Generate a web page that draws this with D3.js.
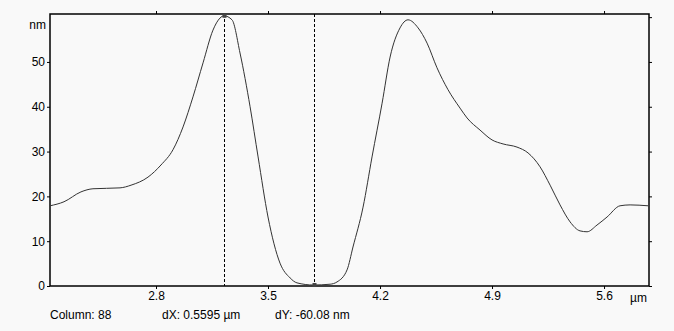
<!DOCTYPE html>
<html>
<head>
<meta charset="utf-8">
<script src="https://cdn.jsdelivr.net/npm/d3@7"></script>
<style>
	body { margin: 0; background: #f9f9f9; }
	svg { display: block; font-family: 'Liberation Sans', Arial, sans-serif; }
</style>
</head>
<body>
<svg id="chart"></svg>
<script>
// profile (µm, nm)
const profileX = [2.138, 2.225, 2.331, 2.406, 2.575, 2.644, 2.75, 2.831, 2.906, 2.969, 3.031, 3.094, 3.156, 3.2, 3.225, 3.275, 3.325, 3.388, 3.438, 3.5, 3.575, 3.638, 3.681, 3.784, 3.888, 3.931, 3.994, 4.031, 4.094, 4.15, 4.213, 4.263, 4.325, 4.375, 4.438, 4.494, 4.556, 4.625, 4.7, 4.744, 4.825, 4.9, 4.969, 5.056, 5.125, 5.2, 5.263, 5.325, 5.388, 5.45, 5.494, 5.556, 5.619, 5.7, 5.763, 5.875];
const profileY = [17.9, 18.8, 21.0, 21.7, 21.9, 22.5, 24.3, 27.0, 30.4, 35.5, 42.2, 49.8, 57.1, 59.8, 60.3, 59.4, 52.0, 40.0, 28.8, 15.4, 5.1, 1.8, 0.7, 0.22, 0.4, 0.9, 3.6, 8.7, 17.6, 28.8, 40.8, 51.1, 57.6, 59.4, 57.6, 54.2, 48.7, 43.8, 39.7, 37.5, 34.8, 32.6, 31.7, 31.0, 29.7, 26.6, 22.5, 18.1, 14.3, 12.3, 12.1, 13.6, 15.4, 17.9, 18.1, 17.9];

const xTicks = [2.8, 3.5, 4.2, 4.9, 5.6];
const yTicks = [0, 10, 20, 30, 40, 50];
const cursorX = [3.225, 3.7845];
const cursorY = [60.3, 0.22];
const statusTexts = ['Column: 88', 'dX: 0.5595 µm', 'dY: -60.08 nm'];

const width = 674, height = 331;
const plotLeft = 50, plotRight = 649, plotTop = 14, plotBottom = 286;

const xScale = d3.scaleLinear()
	.domain([2.1375, 5.881])
	.range([plotLeft, plotRight]);

const yScale = d3.scaleLinear()
	.domain([0, 60.7])
	.range([plotBottom, plotTop]);

const canvas = d3.select('#chart')
	.attr('width', width)
	.attr('height', height);

const data = profileX.map((x, i) => ({ x: x, y: profileY[i] }));

const styleAxis = (g) => {
	g.select('.domain').remove();
	g.selectAll('line').attr('stroke', '#000');
	g.selectAll('text').attr('fill', '#000').style('font-size', '12px');
};

canvas.append('g')
	.attr('transform', `translate(0,${plotBottom})`)
	.call(d3.axisBottom(xScale).tickValues(xTicks).tickSize(3).tickPadding(2).tickFormat(d3.format('.1f')))
	.call(styleAxis);

canvas.append('g')
	.attr('transform', `translate(0,${plotTop})`)
	.call(d3.axisTop(xScale).tickValues(xTicks).tickSize(3).tickFormat(''))
	.call(styleAxis);

canvas.append('g')
	.attr('transform', `translate(${plotLeft},0)`)
	.call(d3.axisLeft(yScale).tickValues(yTicks).tickSize(3).tickPadding(2))
	.call(styleAxis);

canvas.append('g')
	.attr('transform', `translate(${plotRight},0)`)
	.call(d3.axisRight(yScale).tickValues(yTicks.concat([60])).tickSize(3).tickFormat(''))
	.call(styleAxis);

// frame
canvas.append('rect')
	.attr('x', plotLeft)
	.attr('y', plotTop)
	.attr('width', plotRight - plotLeft)
	.attr('height', plotBottom - plotTop)
	.attr('fill', 'none')
	.attr('stroke', '#000')
	.attr('stroke-width', 1.5);

// unit labels
canvas.append('text')
	.attr('x', 46)
	.attr('y', 29)
	.attr('text-anchor', 'end')
	.style('font-size', '12px')
	.text('nm');

canvas.append('text')
	.attr('x', 630)
	.attr('y', 302)
	.style('font-size', '12px')
	.text('µm');

// profile
const line = d3.line()
	.x(function(d) { return xScale(d.x); })
	.y(function(d) { return yScale(d.y); })
	.curve(d3.curveMonotoneX);

canvas.append('path')
	.datum(data)
	.attr('d', line)
	.attr('fill', 'none')
	.attr('stroke', '#333')
	.attr('stroke-width', 1);

// cursors
canvas.selectAll('.cursor')
	.data(cursorX)
	.enter()
	.append('line')
	.attr('class', 'cursor')
	.attr('x1', function(d) { return Math.round(xScale(d)) + 0.5; })
	.attr('x2', function(d) { return Math.round(xScale(d)) + 0.5; })
	.attr('y1', plotTop)
	.attr('y2', plotBottom)
	.attr('stroke', '#000')
	.attr('stroke-dasharray', '3,2');

canvas.selectAll('.marker')
	.data(cursorX)
	.enter()
	.append('rect')
	.attr('class', 'marker')
	.attr('x', function(d) { return Math.round(xScale(d)) - 1.5; })
	.attr('y', function(d, i) { return yScale(cursorY[i]) - 2; })
	.attr('width', 4)
	.attr('height', 4)
	.attr('fill', '#444');

// status line
const statusX = [50, 162, 275];
canvas.selectAll('.status')
	.data(statusTexts)
	.enter()
	.append('text')
	.attr('class', 'status')
	.attr('x', function(d, i) { return statusX[i]; })
	.attr('y', 319)
	.style('font-size', '12px')
	.text(function(d) { return d; });
</script>
</body>
</html>
